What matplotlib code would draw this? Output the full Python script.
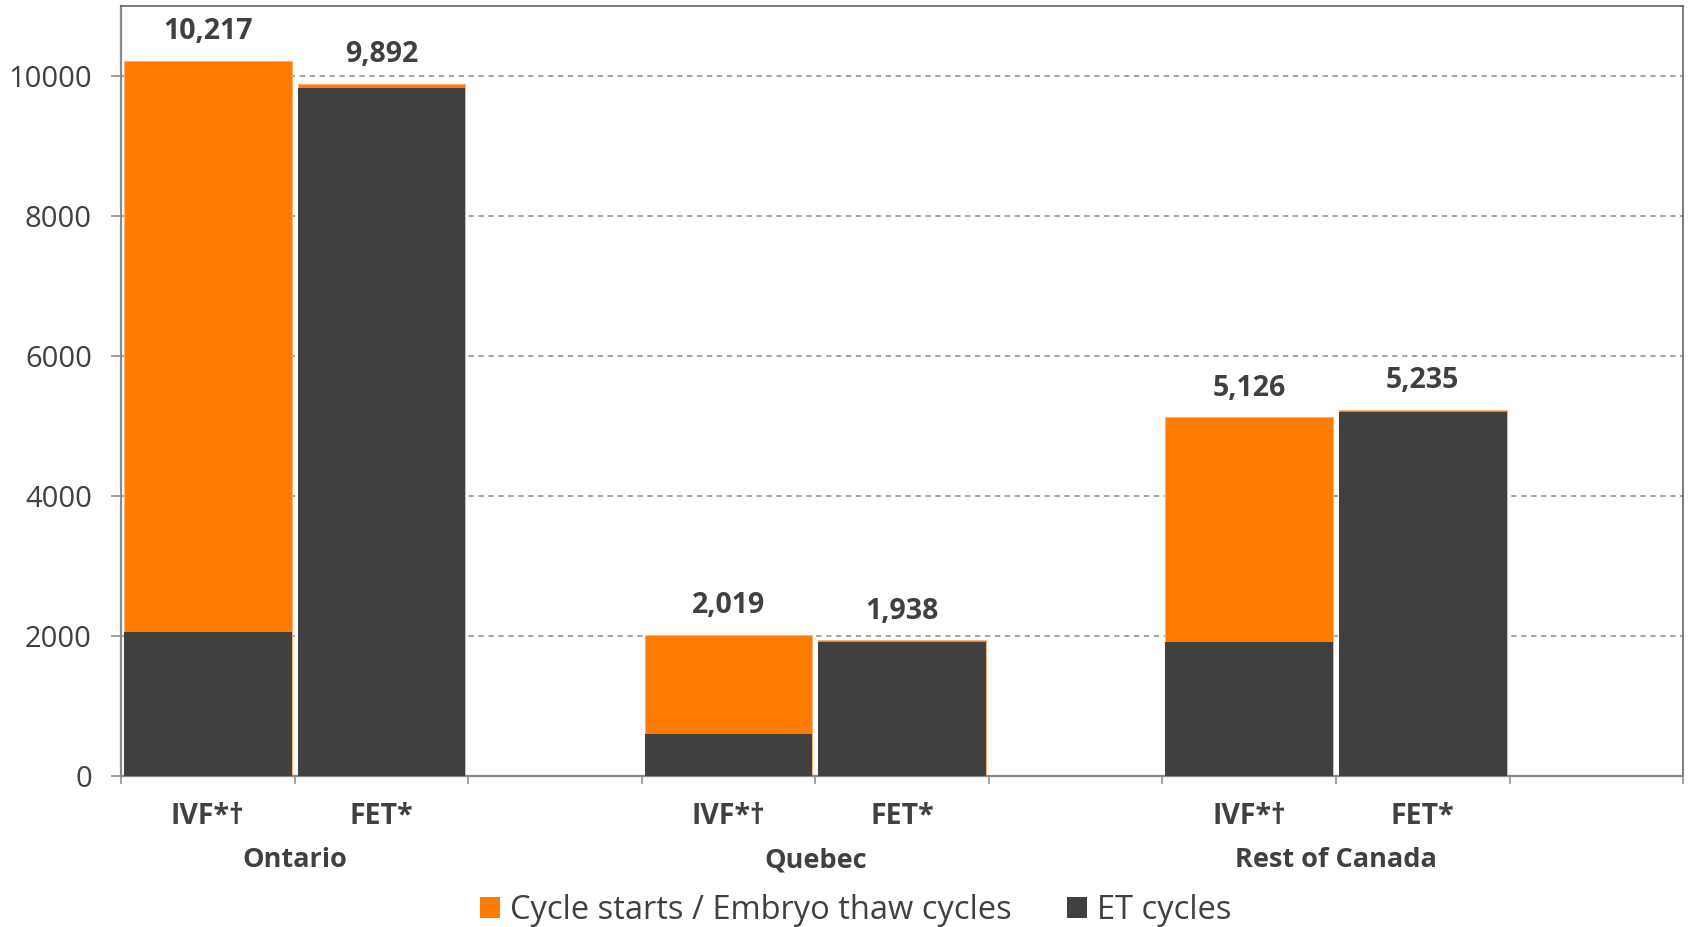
import matplotlib.pyplot as plt
from matplotlib.patches import Patch
from matplotlib.transforms import blended_transform_factory

plt.rcParams["font.family"] = ["Open Sans", "DejaVu Sans"]

# data
regions = ["Ontario", "Quebec", "Rest of Canada"]
treatments = ["IVF*\u2020", "FET*"]
cycle_starts = [10217, 9892, 2019, 1938, 5126, 5235]   # cycle starts / embryo thaw cycles
et_cycles = [2061, 9828, 596, 1910, 1919, 5200]
value_labels = ["10,217", "9,892", "2,019", "1,938", "5,126", "5,235"]

ORANGE = "#FF7C00"
DARK = "#404040"
TEXT = "#404040"
GRID = "#8C8C8C"

# each region gets two bar slots plus an empty slot
slots = []
for g in range(len(regions)):
    for t in range(len(treatments)):
        slots.append(g * 3 + t + 0.5)

fig = plt.figure(figsize=(16.88, 9.27), dpi=100)
ax = fig.add_axes([0.0717, 0.1629, 0.9254, 0.8306])

ax.bar(slots, cycle_starts, width=0.965, color=ORANGE, edgecolor="#FFB070", linewidth=0.8, zorder=2)
ax.bar(slots, et_cycles, width=0.965, color=DARK, linewidth=0, zorder=3)

for x, v, lab in zip(slots, cycle_starts, value_labels):
    ax.annotate(lab, (x, v), xytext=(0, 21), textcoords="offset points",
                ha="center", va="center", fontsize=20.5, fontweight="bold", color=TEXT)

ax.set_xlim(0, 9)
ax.set_ylim(0, 11000)
ax.set_yticks(range(0, 10001, 2000))
ax.set_xticks(range(0, 10))
ax.set_xticklabels([])
ax.yaxis.grid(True, linestyle=(0, (3.5, 3)), color=GRID, linewidth=1.1, zorder=1)
ax.set_axisbelow(True)

ax.tick_params(axis="y", direction="out", length=7, width=1.1, color="#888888",
               labelsize=21, labelcolor=TEXT, pad=14)
ax.tick_params(axis="x", direction="out", length=6, width=1.1, color="#888888")

for side in ["left", "bottom"]:
    ax.spines[side].set_color("#8A8A8A")
    ax.spines[side].set_linewidth(1.6)
for side in ["top", "right"]:
    ax.spines[side].set_color("#595959")
    ax.spines[side].set_linewidth(1.1)

trans = blended_transform_factory(ax.transData, ax.transAxes)
for i, x in enumerate(slots):
    ax.annotate(treatments[i % 2], (x, 0), xycoords=trans, xytext=(0, -29.5),
                textcoords="offset points", ha="center", va="center",
                fontsize=20.5, fontweight="bold", color=TEXT)
for g, name in enumerate(regions):
    ax.annotate(name, (g * 3 + 1, 0), xycoords=trans, xytext=(0, -60.5),
                textcoords="offset points", ha="center", va="center",
                fontsize=19.5, fontweight="bold", color=TEXT)

handles = [Patch(facecolor=ORANGE, label="Cycle starts / Embryo thaw cycles"),
           Patch(facecolor=DARK, label="ET cycles")]
leg = fig.legend(handles=handles, loc="lower center", bbox_to_anchor=(0.507, -0.032),
                 ncol=2, frameon=False, fontsize=23.5, handlelength=0.62, handleheight=0.62,
                 handletextpad=0.3, columnspacing=1.7)
for t in leg.get_texts():
    t.set_color(TEXT)

fig.savefig("out.png", dpi=100)
plt.close(fig)
